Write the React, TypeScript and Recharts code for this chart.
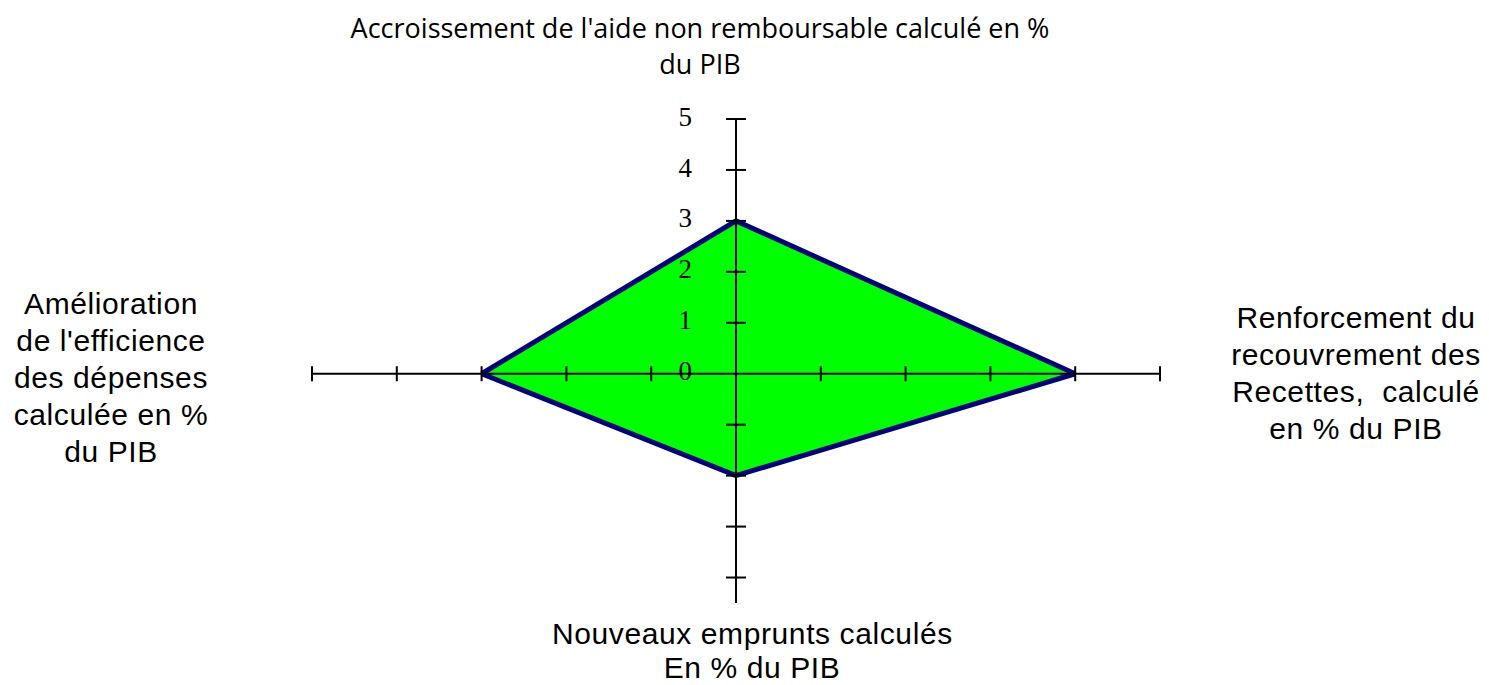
import React from "react";
import { ComposedChart, Area, XAxis, YAxis, ReferenceLine, ReferenceDot } from "recharts";

// axis names, clockwise from the top
const TOP_LABEL = ["Accroissement de l'aide non remboursable calculé en %", "du PIB"];
const RIGHT_LABEL = ["Renforcement du", "recouvrement des", "Recettes,  calculé", "en % du PIB"];
const BOTTOM_LABEL = ["Nouveaux emprunts calculés", "En % du PIB"];
const LEFT_LABEL = ["Amélioration", "de l'efficience", "des dépenses", "calculée en %", "du PIB"];

// scores: top, right, bottom, left
const SCORES = [3, 4, 2, 3];

const X_TICKS = [-5, -4, -3, -2, -1, 1, 2, 3, 4, 5];
const Y_TICKS = [-4, -3, -2, -1, 1, 2, 3, 4, 5];
const Y_TICK_LABELS = [0, 1, 2, 3, 4, 5];

const W = 1489;
const H = 685;
const X_DOMAIN = [-5, 5];
const Y_DOMAIN = [-4.5, 5];
const M = { top: 119, right: 329, bottom: 82, left: 312 };

// tick half lengths in data units (plot is ~84.8 px per x unit, ~50.9 px per y unit)
const PX_X = (W - M.left - M.right) / (X_DOMAIN[1] - X_DOMAIN[0]);
const PX_Y = (H - M.top - M.bottom) / (Y_DOMAIN[1] - Y_DOMAIN[0]);
const HT_X = 7.5 / PX_Y;
const HT_Y = 10 / PX_X;

const sans = { fontFamily: "'Liberation Sans', Arial, sans-serif", fontSize: 30, letterSpacing: 0.6, lineHeight: "37px", color: "#000" };

function Block({ lines, style }: { lines: string[]; style: React.CSSProperties }) {
  return (
    <div style={{ position: "absolute", textAlign: "center", whiteSpace: "pre", ...style }}>
      {lines.map((l, i) => (
        <div key={i}>{l}</div>
      ))}
    </div>
  );
}

export default function App() {
  const rows = [
    { x: -SCORES[3], range: [0, 0] },
    { x: 0, range: [-SCORES[2], SCORES[0]] },
    { x: SCORES[1], range: [0, 0] },
  ];

  return (
    <div style={{ position: "fixed", left: 0, top: 0, width: W, height: H, background: "#fff", overflow: "hidden" }}>
      <ComposedChart width={W} height={H} data={rows} margin={M}>
        <XAxis dataKey="x" type="number" domain={X_DOMAIN} hide />
        <YAxis type="number" domain={Y_DOMAIN} hide />
        <Area
          type="linear"
          dataKey="range"
          fill="#00ff00"
          fillOpacity={1}
          stroke="#000080"
          strokeWidth={5}
          strokeLinejoin="miter"
          dot={false}
          activeDot={false}
          isAnimationActive={false}
        />
        <ReferenceLine y={0} stroke="#000" strokeWidth={2} />
        <ReferenceLine x={0} stroke="#000" strokeWidth={2} />
        {X_TICKS.map((t) => (
          <ReferenceLine
            key={"x" + t}
            segment={[{ x: t, y: -HT_X }, { x: t, y: HT_X }]}
            stroke="#000"
            strokeWidth={2}
          />
        ))}
        {Y_TICKS.map((t) => (
          <ReferenceLine
            key={"y" + t}
            segment={[{ x: -HT_Y, y: t }, { x: HT_Y, y: t }]}
            stroke="#000"
            strokeWidth={2}
          />
        ))}
        {Y_TICK_LABELS.map((t) => (
          <ReferenceDot
            key={"l" + t}
            x={0}
            y={t}
            r={0}
            fill="none"
            stroke="none"
            label={{
              value: String(t),
              position: "left",
              offset: 44,
              dy: -3,
              fill: "#000",
              fontSize: 27,
              fontFamily: "'Liberation Serif', 'Times New Roman', serif",
            }}
          />
        ))}
      </ComposedChart>
      <Block
        lines={TOP_LABEL}
        style={{ left: 200, width: 1000, top: 10, fontFamily: "'Open Sans', sans-serif", fontSize: 27, lineHeight: "36px" }}
      />
      <Block lines={LEFT_LABEL} style={{ ...sans, left: 0, width: 222, top: 285 }} />
      <Block lines={RIGHT_LABEL} style={{ ...sans, left: 1224, width: 264, top: 299 }} />
      <Block lines={BOTTOM_LABEL} style={{ ...sans, left: 552, width: 400, top: 617, lineHeight: "34px" }} />
    </div>
  );
}
